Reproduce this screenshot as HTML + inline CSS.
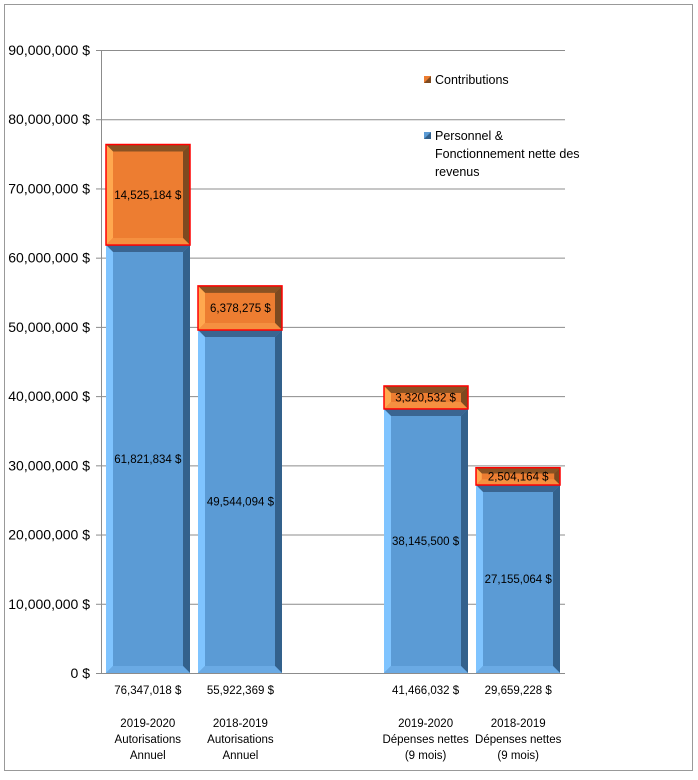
<!DOCTYPE html>
<html><head><meta charset="utf-8"><style>
body{margin:0;background:#fff;font-family:"Liberation Sans",sans-serif}
svg text{font-family:"Liberation Sans",sans-serif;font-size:11.5px;fill:#000}
</style></head><body>
<svg id="c" width="698" height="775">
<rect x="4.5" y="4.5" width="688" height="766" fill="#fff" stroke="#999"/>
</svg>
<script>
const categories=[["2019-2020","Autorisations","Annuel"],["2018-2019","Autorisations","Annuel"],null,["2019-2020","Dépenses nettes","(9 mois)"],["2018-2019","Dépenses nettes","(9 mois)"]];
const personnel=[61821834,49544094,null,38145500,27155064];
const contributions=[14525184,6378275,null,3320532,2504164];
const totals=["76,347,018 $","55,922,369 $",null,"41,466,032 $","29,659,228 $"];
const yTicks=[0,10000000,20000000,30000000,40000000,50000000,60000000,70000000,80000000,90000000];
const NS="http://www.w3.org/2000/svg";
const svg=document.getElementById('c');
const x0=101.5,slot=92.6,bw=84,yb=673,yt=50,ymax=90000000;
const y=v=>yb-(v/ymax)*(yb-yt);
const fmt=v=>v.toLocaleString('en-US')+' $';
function el(t,a,p){const e=document.createElementNS(NS,t);for(const k in a)e.setAttribute(k,a[k]);(p||svg).appendChild(e);return e;}
yTicks.forEach(v=>{
 const g=el('line',{x1:101,x2:565,y1:y(v)+.5,y2:y(v)+.5,stroke:'#8c8c8c'});
 
 
 el('line',{x1:96,x2:101,y1:y(v)+.5,y2:y(v)+.5,stroke:'#8c8c8c'});
 const t=el('text',{x:90,y:y(v)+5,'text-anchor':'end'});t.textContent=fmt(v);
 t.style.fontSize='14px';
 
 
});
const ax=el('line',{x1:101.5,x2:101.5,y1:yt,y2:yb,stroke:'#8c8c8c'});


function bevel(x,yy,w,h,c,name,border){
 const g=el('g',{});
 
 
 const b=Math.min(7,h/3);
 el('rect',{x:x,y:yy,width:w,height:h,fill:c.base},g);
 el('polygon',{points:`${x},${yy} ${x+w},${yy} ${x+w-b},${yy+b} ${x+b},${yy+b}`,fill:c.top},g);
 el('polygon',{points:`${x},${yy} ${x+b},${yy+b} ${x+b},${yy+h-b} ${x},${yy+h}`,fill:c.left},g);
 el('polygon',{points:`${x+w},${yy} ${x+w},${yy+h} ${x+w-b},${yy+h-b} ${x+w-b},${yy+b}`,fill:c.right},g);
 el('polygon',{points:`${x},${yy+h} ${x+b},${yy+h-b} ${x+w-b},${yy+h-b} ${x+w},${yy+h}`,fill:c.bottom},g);
 if(border)el('rect',{x:x,y:yy,width:w,height:h,fill:'none',stroke:border,'stroke-width':1.5},g);
 return g;
}
const blue={base:'#5b9bd5',top:'#3a6591',left:'#7fc4ff',right:'#33618c',bottom:'#6aaae4'};
const orange={base:'#ed7d31',top:'#8a5223',left:'#ffa84f',right:'#7d4a20',bottom:'#f59040'};
categories.forEach((cat,i)=>{
 if(!cat)return;
 const cx=x0+slot*i+slot/2,x=Math.round(cx-bw/2);
 const p=personnel[i],c=contributions[i];
 const y1=y(p),y2=y(p+c);
 bevel(x,y1,bw,yb-y1,blue,'bar-personnel',null);
 bevel(x,y2,bw,y1-y2,orange,'bar-contributions','#ff0000');
 let t=el('text',{x:cx,y:(y1+yb)/2+4,'text-anchor':'middle'});t.textContent=fmt(p);
 
 
 t=el('text',{x:cx,y:(y1+y2)/2+4,'text-anchor':'middle'});t.textContent=fmt(c);
 
 
 t=el('text',{x:cx,y:694,'text-anchor':'middle'});t.textContent=totals[i];
 
 
 cat.forEach((s,j)=>{const l=el('text',{x:cx,y:727+16*j,'text-anchor':'middle'});l.textContent=s;
  
  });
});
function leg(yy,c,lines){
 const g=el('g',{});
 
 
 el('rect',{x:424,y:yy-4,width:7,height:7,fill:c.base},g);
 el('polygon',{points:`${431},${yy-4} ${431},${yy+3} ${424},${yy+3}`,fill:c.right},g);
 lines.forEach((s,j)=>{const t=el('text',{x:435,y:yy+4+18*j},g);t.textContent=s;t.style.fontSize='12.5px';});
}
leg(80,orange,['Contributions']);
leg(136,blue,['Personnel &','Fonctionnement nette des','revenus']);
</script>
</body></html>
